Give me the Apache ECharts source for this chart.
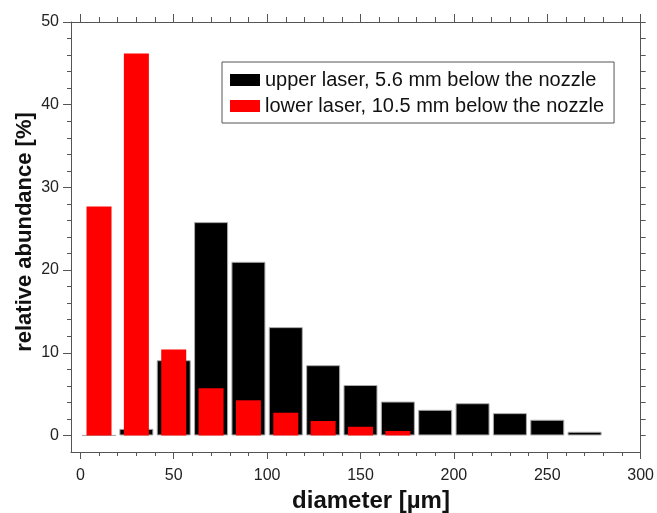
<!DOCTYPE html>
<html>
<head>
<meta charset="utf-8">
<script src="https://cdn.jsdelivr.net/npm/echarts@6/dist/echarts.min.js"></script>
<style>
  html, body { margin: 0; padding: 0; background: #fff; }
  #chart { width: 657px; height: 513px; }
</style>
</head>
<body>
<div id="chart"></div>
<script>
// bin centres, 20 µm wide bins
var binCenters = [10, 30, 50, 70, 90, 110, 130, 150, 170, 190, 210, 230, 250, 270];
var upperLaser = [0, 0.8, 9.1, 25.8, 21.0, 13.1, 8.5, 6.1, 4.1, 3.1, 3.9, 2.7, 1.9, 0.45];
var lowerLaser = [27.7, 46.2, 10.4, 5.7, 4.25, 2.75, 1.75, 1.05, 0.55];
var xMajor = [0, 50, 100, 150, 200, 250, 300];
var xMinor = [0, 10, 20, 30, 40, 50, 60, 70, 80, 90, 100, 110, 120, 130, 140, 150, 160, 170, 180, 190, 200, 210, 220, 230, 240, 250, 260, 270, 280, 290, 300];
var yMajor = [0, 10, 20, 30, 40, 50];
var yMinor = [0, 2, 4, 6, 8, 10, 12, 14, 16, 18, 20, 22, 24, 26, 28, 30, 32, 34, 36, 38, 40, 42, 44, 46, 48, 50];

var font = "'Liberation Sans', Arial, sans-serif";
var lineColor = '#555';

function pairs(xs, ys) {
  return ys.map(function (v, i) { return [xs[i], v]; });
}

function xAx(pos, ticks, len, showLine, opts) {
  return Object.assign({
    type: 'value', position: pos, min: -5, max: 300,
    axisLine: { show: showLine, onZero: false, lineStyle: { color: lineColor, width: 1 } },
    axisTick: { show: true, customValues: ticks, length: len, lineStyle: { color: lineColor } },
    axisLabel: { show: false },
    splitLine: { show: false }
  }, opts || {});
}
function yAx(pos, ticks, len, showLine, opts) {
  return Object.assign({
    type: 'value', position: pos, min: -2, max: 50,
    axisLine: { show: showLine, onZero: false, lineStyle: { color: lineColor, width: 1 } },
    axisTick: { show: true, customValues: ticks, length: len, lineStyle: { color: lineColor } },
    axisLabel: { show: false },
    splitLine: { show: false }
  }, opts || {});
}

var myChart = echarts.init(document.getElementById('chart'));

var option = {
  animation: false,
  textStyle: { fontFamily: font },
  grid: { left: 71, right: 13, top: 22, bottom: 61 },
  legend: {
    orient: 'vertical',
    left: 222, top: 62,
    padding: [8, 10, 7, 8],
    itemGap: 6,
    itemWidth: 30, itemHeight: 12,
    icon: 'rect',
    itemStyle: { borderWidth: 0 },
    borderColor: lineColor, borderWidth: 1,
    textStyle: { fontSize: 20, color: '#111', fontFamily: font, lineHeight: 18 },
    data: ['upper laser, 5.6 mm below the nozzle', 'lower laser, 10.5 mm below the nozzle']
  },
  xAxis: [
    xAx('bottom', xMajor, 7, true, {
      axisLabel: { show: true, customValues: xMajor, fontSize: 16, color: '#222', margin: 16, fontFamily: font }
    }),
    xAx('bottom', xMinor, 4, false),
    xAx('top', xMajor, 8, true),
    xAx('top', xMinor, 5, false)
  ],
  yAxis: [
    yAx('left', yMajor, 8, true, {
      axisLabel: { show: true, customValues: yMajor, fontSize: 16, color: '#222', margin: 12, fontFamily: font }
    }),
    yAx('left', yMinor, 4, false),
    yAx('right', yMinor, 5, true)
  ],
  graphic: [{
    type: 'text', x: 25, y: 232, rotation: Math.PI / 2,
    style: {
      text: 'relative abundance [%]', fill: '#111',
      font: 'bold 22px ' + font,
      textAlign: 'center', textVerticalAlign: 'middle'
    }
  }, {
    type: 'text', x: 371, y: 501,
    style: {
      text: 'diameter [µm]', fill: '#111',
      font: 'bold 24px ' + font,
      textAlign: 'center', textVerticalAlign: 'middle'
    }
  }],
  series: [
    {
      name: 'upper laser, 5.6 mm below the nozzle',
      type: 'bar', xAxisIndex: 1, yAxisIndex: 0,
      barWidth: 34,
      itemStyle: { color: '#000', borderColor: '#aaa', borderWidth: 1 },
      data: pairs(binCenters, upperLaser)
    },
    {
      name: 'lower laser, 10.5 mm below the nozzle',
      type: 'bar', xAxisIndex: 3, yAxisIndex: 0,
      barWidth: 25,
      itemStyle: { color: '#ff0000' },
      data: pairs(binCenters, lowerLaser)
    }
  ]
};
myChart.setOption(option);
</script>
</body>
</html>
